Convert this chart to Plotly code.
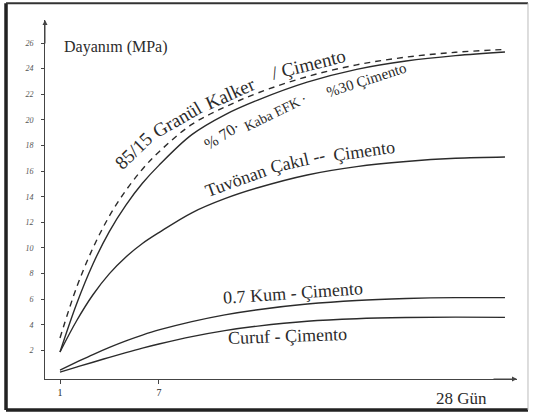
import plotly.graph_objects as go

# ---- data ----
days = [1, 2, 3, 4, 5, 6, 7, 9, 11, 13, 16, 19, 22, 25, 28]
granul_kalker = [2.97, 6.9, 10.0, 12.5, 14.5, 16.15, 17.5, 19.65, 21.0, 22.1, 23.38, 24.3, 24.9, 25.28, 25.5]
kaba_efk = [1.88, 5.61, 8.75, 11.3, 13.35, 15.05, 16.45, 18.85, 20.4, 21.55, 22.95, 23.95, 24.6, 25.02, 25.3]
tuvonan = [1.88, 4.3, 6.35, 8.0, 9.3, 10.35, 11.2, 12.75, 13.85, 14.7, 15.7, 16.35, 16.75, 17.0, 17.1]
kum = [0.47, 1.08, 1.68, 2.24, 2.75, 3.2, 3.6, 4.25, 4.78, 5.18, 5.62, 5.9, 6.05, 6.12, 6.12]
curuf = [0.31, 0.7, 1.08, 1.46, 1.83, 2.18, 2.5, 3.08, 3.55, 3.9, 4.28, 4.48, 4.57, 4.6, 4.58]

y_ticks = [2, 4, 6, 8, 10, 12, 14, 16, 18, 20, 22, 24, 26]
x_ticks = [1, 7]
x_ticklabels = ["1", "7"]

INK = "#2b2b2b"
SERIF = "Liberation Serif"

fig = go.Figure()


def add_line(y, dash="solid"):
    fig.add_trace(go.Scatter(
        x=days, y=y, mode="lines", line_shape="spline",
        line=dict(color=INK, width=1.4, dash=dash, smoothing=1.0),
        showlegend=False, hoverinfo="skip"))


add_line(granul_kalker, dash="6px,5px")
add_line(kaba_efk)
add_line(tuvonan)
add_line(kum)
add_line(curuf)

# curve labels: (text, x, y, angle, size)
labels = [
    ("85/15", 5.49, 17.58, -44, 19),
    ("Granül", 8.10, 20.0, -30, 19),
    ("Kalker", 11.32, 22.1, -24, 19),
    ("/ Çimento", 16.05, 24.3, -14, 19),
    ("% 70·", 10.83, 18.75, -32, 16),
    ("Kaba EFK ·", 14.11, 20.55, -26, 14),
    ("%30 Çimento", 19.57, 23.13, -18, 15),
    ("Tuvönan", 11.62, 15.23, -20, 18),
    ("Çakıl --", 15.44, 16.8, -13, 18),
    ("Çimento", 19.45, 17.58, -8, 18),
    ("0.7 Kum - Çimento", 15.14, 6.48, -4, 18),
    ("Curuf - Çimento", 14.83, 3.12, -2, 18),
]
for text, x, y, ang, size in labels:
    fig.add_annotation(x=x, y=y, text=text, showarrow=False, textangle=ang,
                       font=dict(family=SERIF, size=size, color=INK))

fig.add_annotation(x=1.12, y=25.7, xanchor="left", yanchor="middle", text="Dayanım (MPa)",
                   showarrow=False, font=dict(family=SERIF, size=16, color=INK))
fig.add_annotation(xref="paper", yref="paper", x=0.883, y=-0.053, xanchor="center",
                   yanchor="middle", text="28 Gün",
                   showarrow=False, font=dict(family=SERIF, size=17, color=INK))

# axis arrows
fig.add_annotation(xref="paper", yref="paper", x=0, y=1, ax=0, ay=25, text="",
                   showarrow=True, arrowhead=2, arrowsize=1, arrowwidth=1, arrowcolor="#444")
fig.add_annotation(xref="paper", yref="paper", x=1, y=0, ax=-25, ay=0, text="",
                   showarrow=True, arrowhead=2, arrowsize=1, arrowwidth=1, arrowcolor="#444")

# picture frame
frame = [
    (-0.0826, -0.0864, -0.0826, 1.047, 3.5, "#222"),
    (-0.0826, -0.0864, 1.0233, -0.0864, 3.5, "#222"),
    (-0.0826, 1.047, 1.0233, 1.047, 2.0, "#333"),
    (1.0233, -0.0864, 1.0233, 1.047, 1.0, "#bbb"),
]
for x0, y0, x1, y1, w, c in frame:
    fig.add_shape(type="line", xref="paper", yref="paper", x0=x0, y0=y0, x1=x1, y1=y1,
                  line=dict(color=c, width=w))

fig.update_xaxes(range=[0.09, 28.73], tickvals=x_ticks, ticktext=x_ticklabels,
                 showline=True, linecolor="#444", linewidth=1, ticks="outside", ticklen=4,
                 tickcolor="#444", showgrid=False, zeroline=False,
                 tickfont=dict(family=SERIF, size=10, color=INK))
fig.update_yaxes(range=[-0.23, 27.8], tickvals=y_ticks,
                 showline=True, linecolor="#444", linewidth=1, ticks="outside", ticklen=3,
                 tickcolor="#444", showgrid=False, zeroline=False, ticklabelstandoff=6,
                 tickfont=dict(family=SERIF, size=8, color="#555", style="italic"))

fig.update_layout(width=533, height=420, margin=dict(l=45, r=16, t=20, b=41),
                  paper_bgcolor="white", plot_bgcolor="white")

fig.write_html("out.html", config={"displayModeBar": False},
               post_script="document.body.style.margin='0px';")
